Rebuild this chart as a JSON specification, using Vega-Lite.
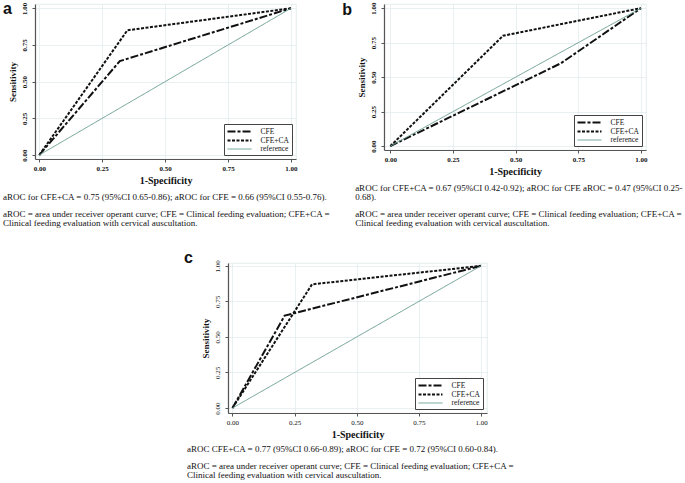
{
  "$schema": "https://vega.github.io/schema/vega-lite/v6.json",
  "background": "white",
  "padding": {"left": 2, "top": 0, "right": 0, "bottom": 0},
  "config": {
    "font": "Liberation Serif",
    "view": {"stroke": "#dde8ea", "strokeWidth": 0.8},
    "axis": {
      "domainColor": "#555555", "domainWidth": 1.2,
      "tickColor": "#555555", "tickSize": 3, "tickWidth": 1, "tickCount": 10,
      "gridColor": "#e2ecee", "gridWidth": 0.8,
      "labelFont": "Liberation Serif", "labelFontSize": 7, "labelColor": "#111111",
      "titleFont": "Liberation Serif", "titleColor": "#111111"
    },
    "axisX": {"labelPadding": 2, "titleFontSize": 10, "titlePadding": 4},
    "axisY": {"labelPadding": 5, "titleFontSize": 9, "titlePadding": 3},
    "legend": {
      "orient": "bottom-right", "offset": 4, "title": null,
      "strokeColor": "#444444", "fillColor": "white", "padding": 2.5, "cornerRadius": 0,
      "labelFont": "Liberation Serif", "labelFontSize": 7.5, "labelColor": "#111111",
      "symbolType": "M-3,0L3,0", "symbolSize": 64, "symbolOffset": 8, "rowPadding": 0, "labelOffset": 16
    },
    "title": {
      "font": "Liberation Serif", "fontSize": 9, "fontWeight": "normal", "color": "#111111", "lineHeight": 9,
      "subtitleFont": "Liberation Serif", "subtitleFontSize": 9, "subtitleColor": "#111111", "subtitleLineHeight": 9, "subtitlePadding": 8,
      "orient": "bottom", "anchor": "start", "frame": "bounds", "offset": 8
    }
  },
  "datasets": {
    "rocA": [
      {"series": "CFE", "fpr": 0, "tpr": 0},
      {"series": "CFE", "fpr": 0.32, "tpr": 0.64},
      {"series": "CFE", "fpr": 1, "tpr": 1},
      {"series": "CFE+CA", "fpr": 0, "tpr": 0},
      {"series": "CFE+CA", "fpr": 0.35, "tpr": 0.85},
      {"series": "CFE+CA", "fpr": 1, "tpr": 1},
      {"series": "reference", "fpr": 0, "tpr": 0},
      {"series": "reference", "fpr": 1, "tpr": 1}
    ],
    "rocB": [
      {"series": "CFE", "fpr": 0, "tpr": 0},
      {"series": "CFE", "fpr": 0.68, "tpr": 0.6},
      {"series": "CFE", "fpr": 1, "tpr": 1},
      {"series": "CFE+CA", "fpr": 0, "tpr": 0},
      {"series": "CFE+CA", "fpr": 0.45, "tpr": 0.8},
      {"series": "CFE+CA", "fpr": 1, "tpr": 1},
      {"series": "reference", "fpr": 0, "tpr": 0},
      {"series": "reference", "fpr": 1, "tpr": 1}
    ],
    "rocC": [
      {"series": "CFE", "fpr": 0, "tpr": 0},
      {"series": "CFE", "fpr": 0.21, "tpr": 0.65},
      {"series": "CFE", "fpr": 1, "tpr": 1},
      {"series": "CFE+CA", "fpr": 0, "tpr": 0},
      {"series": "CFE+CA", "fpr": 0.32, "tpr": 0.87},
      {"series": "CFE+CA", "fpr": 1, "tpr": 1},
      {"series": "reference", "fpr": 0, "tpr": 0},
      {"series": "reference", "fpr": 1, "tpr": 1}
    ]
  },
  "bounds": "flush",
  "spacing": 259,
  "resolve": {
    "scale": {"x": "independent", "y": "independent"},
    "legend": {"color": "independent", "strokeDash": "independent", "strokeWidth": "independent"}
  },
  "vconcat": [
    {
      "bounds": "flush",
      "spacing": 88,
      "resolve": {
        "scale": {"x": "independent", "y": "independent"},
        "legend": {"color": "independent", "strokeDash": "independent", "strokeWidth": "independent"}
      },
      "hconcat": [
        {
          "width": 261,
          "height": 155,
          "data": {"name": "rocA"},
          "title": {
            "text": ["aROC for CFE+CA = 0.75 (95%CI 0.65-0.86); aROC for CFE = 0.66 (95%CI 0.55-0.76)."],
            "subtitle": [
              "aROC = area under receiver operant curve; CFE = Clinical feeding evaluation; CFE+CA =",
              "Clinical feeding evaluation with cervical auscultation."
            ]
          },
          "layer": [
            {
              "mark": {"type": "line"},
              "encoding": {
                "x": {"field": "fpr", "type": "quantitative",
                  "scale": {"domain": [-0.017, 1.02], "nice": false, "zero": false},
                  "axis": {"values": [0, 0.25, 0.5, 0.75, 1], "tickCount": 10, "format": ".2f", "title": "1-Specificity", "labelFontWeight": "bold", "titleFontWeight": "bold", "labelOverlap": false}},
                "y": {"field": "tpr", "type": "quantitative",
                  "scale": {"domain": [-0.027, 1.029], "nice": false, "zero": false},
                  "axis": {"values": [0, 0.25, 0.5, 0.75, 1], "tickCount": 10, "format": ".2f", "title": "Sensitivity", "labelFontWeight": "bold", "titleFontWeight": "bold", "labelAngle": 270, "labelAlign": "center", "labelBaseline": "bottom", "labelOverlap": false}},
                "color": {"field": "series", "type": "nominal",
                  "scale": {"domain": ["CFE", "CFE+CA", "reference"], "range": ["#111111", "#111111", "#6a9e92"]}},
                "strokeDash": {"field": "series", "type": "nominal",
                  "scale": {"domain": ["CFE", "CFE+CA", "reference"], "range": [[8, 2, 3, 2], [3, 1.5], [1, 0]]}},
                "strokeWidth": {"field": "series", "type": "nominal",
                  "scale": {"type": "ordinal", "domain": ["CFE", "CFE+CA", "reference"], "range": [2, 2, 1]}}
              }
            },
            {
              "data": {"values": [{"label": "a"}]},
              "mark": {"type": "text", "font": "Liberation Sans", "fontWeight": "bold", "fontSize": 16, "align": "left", "baseline": "alphabetic", "color": "#111111"},
              "encoding": {
                "x": {"datum": -0.144},
                "y": {"datum": 0.96},
                "text": {"field": "label"}
              }
            }
          ]
        },
        {
          "width": 262,
          "height": 146,
          "data": {"name": "rocB"},
          "title": {
            "dx": 13,
            "text": [
              "aROC for CFE+CA = 0.67 (95%CI 0.42-0.92); aROC for CFE aROC = 0.47 (95%CI 0.25-",
              "0.68)."
            ],
            "subtitle": [
              "aROC = area under receiver operant curve; CFE = Clinical feeding evaluation; CFE+CA =",
              "Clinical feeding evaluation with cervical auscultation."
            ]
          },
          "layer": [
            {
              "mark": {"type": "line"},
              "encoding": {
                "x": {"field": "fpr", "type": "quantitative",
                  "scale": {"domain": [-0.025, 1.02], "nice": false, "zero": false},
                  "axis": {"values": [0, 0.25, 0.5, 0.75, 1], "tickCount": 10, "format": ".2f", "title": "1-Specificity", "labelFontWeight": "bold", "titleFontWeight": "bold", "labelOverlap": false}},
                "y": {"field": "tpr", "type": "quantitative",
                  "scale": {"domain": [-0.028, 1.03], "nice": false, "zero": false},
                  "axis": {"values": [0, 0.25, 0.5, 0.75, 1], "tickCount": 10, "format": ".2f", "title": "Sensitivity", "labelFontWeight": "bold", "titleFontWeight": "bold", "labelAngle": 270, "labelAlign": "center", "labelBaseline": "bottom", "labelOverlap": false}},
                "color": {"field": "series", "type": "nominal",
                  "scale": {"domain": ["CFE", "CFE+CA", "reference"], "range": ["#111111", "#111111", "#6a9e92"]}},
                "strokeDash": {"field": "series", "type": "nominal",
                  "scale": {"domain": ["CFE", "CFE+CA", "reference"], "range": [[8, 2, 3, 2], [3, 1.5], [1, 0]]}},
                "strokeWidth": {"field": "series", "type": "nominal",
                  "scale": {"type": "ordinal", "domain": ["CFE", "CFE+CA", "reference"], "range": [2, 2, 1]}}
              }
            },
            {
              "data": {"values": [{"label": "b"}]},
              "mark": {"type": "text", "font": "Liberation Sans", "fontWeight": "bold", "fontSize": 16, "align": "left", "baseline": "alphabetic", "color": "#111111"},
              "encoding": {
                "x": {"datum": -0.192},
                "y": {"datum": 0.95},
                "text": {"field": "label"}
              }
            }
          ]
        }
      ]
    },
    {
      "bounds": "flush",
      "spacing": 0,
      "resolve": {
        "scale": {"x": "independent", "y": "independent"},
        "legend": {"color": "independent", "strokeDash": "independent", "strokeWidth": "independent"}
      },
      "hconcat": [
        {
          "width": 193,
          "height": 1,
          "view": {"stroke": null},
          "data": {"values": []},
          "mark": {"type": "point", "opacity": 0}
        },
        {
          "width": 259,
          "height": 150,
          "data": {"name": "rocC"},
          "title": {
            "dx": 3,
            "offset": 6,
            "text": ["aROC CFE+CA = 0.77 (95%CI 0.66-0.89); aROC for CFE = 0.72 (95%CI 0.60-0.84)."],
            "subtitle": [
              "aROC = area under receiver operant curve; CFE = Clinical feeding evaluation; CFE+CA =",
              "Clinical feeding evaluation with cervical auscultation."
            ]
          },
          "layer": [
            {
              "mark": {"type": "line"},
              "encoding": {
                "x": {"field": "fpr", "type": "quantitative",
                  "scale": {"domain": [-0.018, 1.024], "nice": false, "zero": false},
                  "axis": {"values": [0, 0.25, 0.5, 0.75, 1], "tickCount": 10, "format": ".2f", "title": "1-Specificity", "labelOverlap": false}},
                "y": {"field": "tpr", "type": "quantitative",
                  "scale": {"domain": [-0.035, 1.02], "nice": false, "zero": false},
                  "axis": {"values": [0, 0.25, 0.5, 0.75, 1], "tickCount": 10, "format": ".2f", "title": "Sensitivity", "labelAngle": 270, "labelAlign": "center", "labelBaseline": "bottom", "labelOverlap": false}},
                "color": {"field": "series", "type": "nominal",
                  "scale": {"domain": ["CFE", "CFE+CA", "reference"], "range": ["#111111", "#111111", "#6a9e92"]}},
                "strokeDash": {"field": "series", "type": "nominal",
                  "scale": {"domain": ["CFE", "CFE+CA", "reference"], "range": [[8, 2, 3, 2], [3, 1.5], [1, 0]]}},
                "strokeWidth": {"field": "series", "type": "nominal",
                  "scale": {"type": "ordinal", "domain": ["CFE", "CFE+CA", "reference"], "range": [2, 2, 1]}}
              }
            },
            {
              "data": {"values": [{"label": "c"}]},
              "mark": {"type": "text", "font": "Liberation Sans", "fontWeight": "bold", "fontSize": 16, "align": "left", "baseline": "alphabetic", "color": "#111111"},
              "encoding": {
                "x": {"datum": -0.195},
                "y": {"datum": 1.02},
                "text": {"field": "label"}
              }
            }
          ]
        }
      ]
    }
  ]
}
